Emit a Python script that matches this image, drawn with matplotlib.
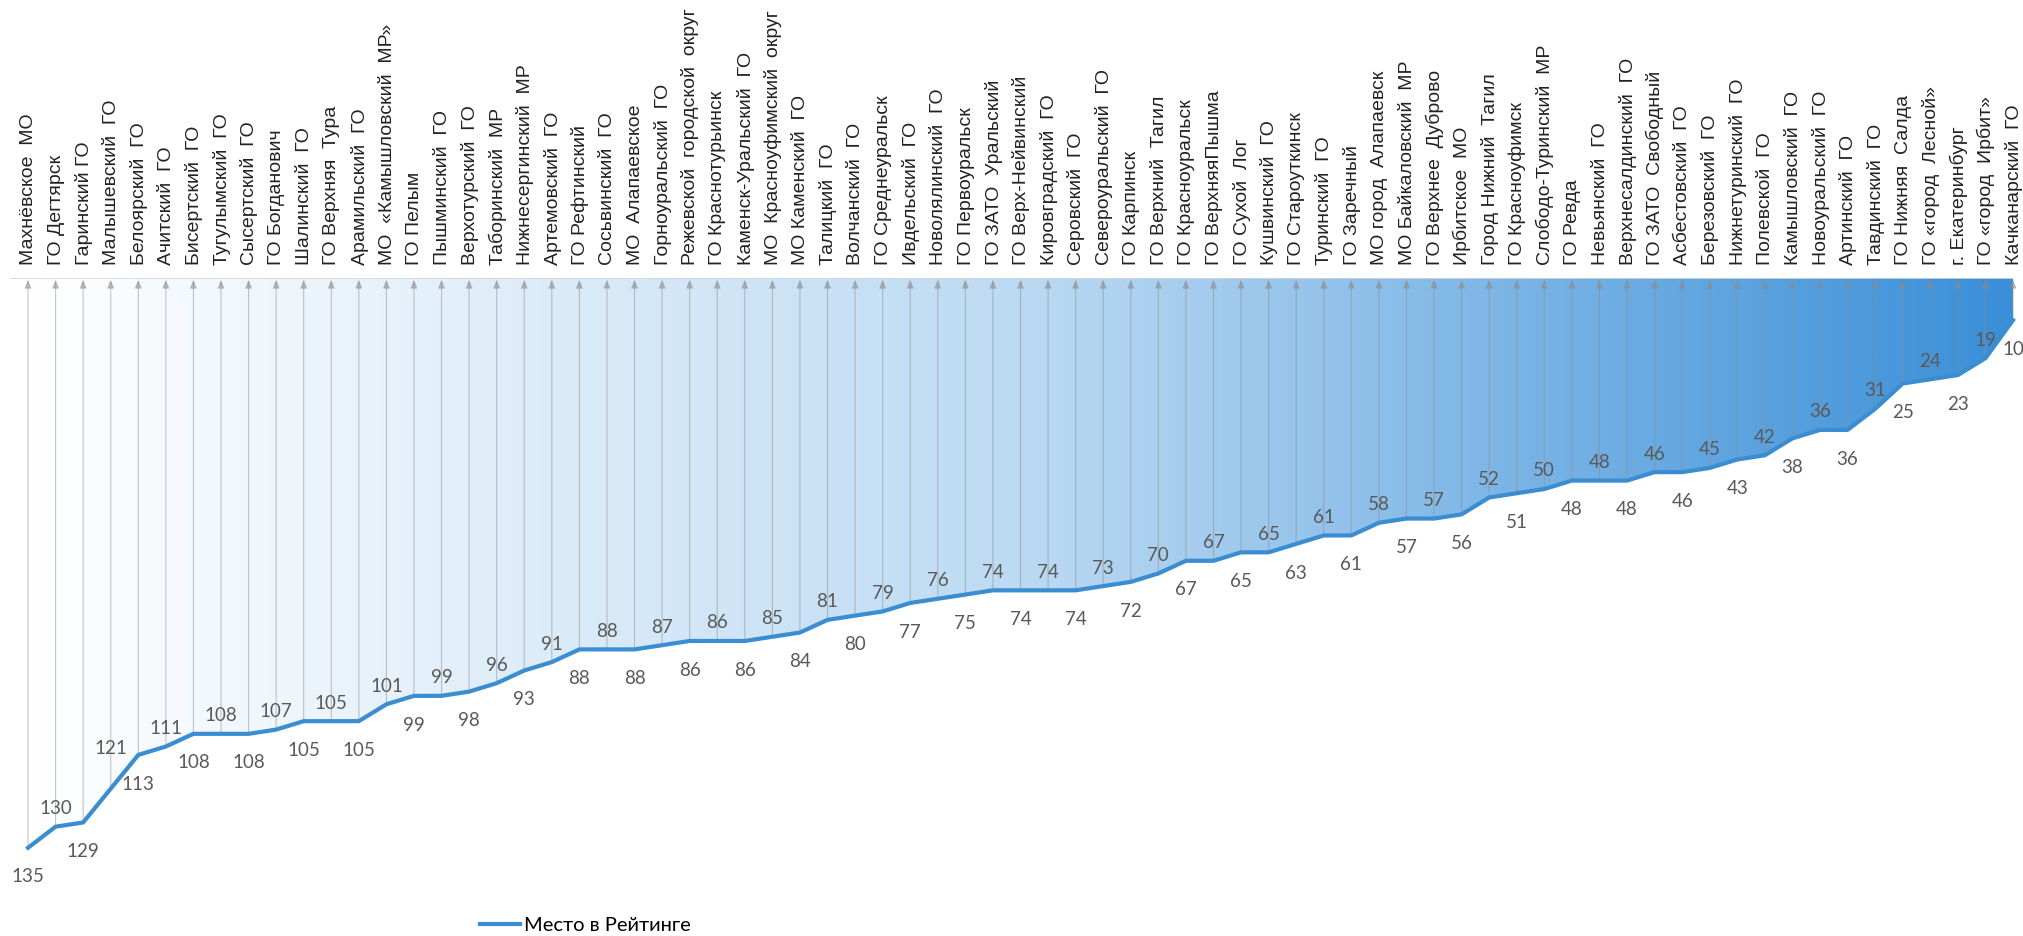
import numpy as np
import matplotlib.pyplot as plt
from matplotlib.colors import LinearSegmentedColormap
from matplotlib.lines import Line2D

names = [
    'Махнёвское  МО', 'ГО Дегтярск', 'Гаринский ГО', 'Малышевский  ГО', 'Белоярский  ГО',
    'Ачитский  ГО', 'Бисертский  ГО', 'Тугулымский  ГО', 'Сысертский  ГО', 'ГО Богданович',
    'Шалинский  ГО', 'ГО Верхняя  Тура', 'Арамильский  ГО', 'МО  «Камышловский  МР»', 'ГО Пелым',
    'Пышминский  ГО', 'Верхотурский  ГО', 'Таборинский  МР', 'Нижнесергинский  МР', 'Артемовский  ГО',
    'ГО Рефтинский', 'Сосьвинский  ГО', 'МО  Алапаевское', 'Горноуральский  ГО', 'Режевской  городской  округ',
    'ГО Краснотурьинск', 'Каменск-Уральский  ГО', 'МО  Красноуфимский  округ', 'МО Каменский  ГО', 'Талицкий  ГО',
    'Волчанский  ГО', 'ГО Среднеуральск', 'Ивдельский  ГО', 'Новолялинский  ГО', 'ГО Первоуральск',
    'ГО ЗАТО  Уральский', 'ГО Верх-Нейвинский', 'Кировградский  ГО', 'Серовский  ГО', 'Североуральский  ГО',
    'ГО Карпинск', 'ГО Верхний  Тагил', 'ГО Красноуральск', 'ГО ВерхняяПышма', 'ГО Сухой  Лог',
    'Кушвинский  ГО', 'ГО Староуткинск', 'Туринский  ГО', 'ГО Заречный', 'МО город  Алапаевск',
    'МО Байкаловский  МР', 'ГО Верхнее  Дуброво', 'Ирбитское  МО', 'Город Нижний  Тагил', 'ГО Красноуфимск',
    'Слободо-Туринский  МР', 'ГО Ревда', 'Невьянский  ГО', 'Верхнесалдинский  ГО', 'ГО ЗАТО  Свободный',
    'Асбестовский  ГО', 'Березовский  ГО', 'Нижнетуринский  ГО', 'Полевской  ГО', 'Камышловский  ГО',
    'Новоуральский  ГО', 'Артинский  ГО', 'Тавдинский  ГО', 'ГО Нижняя  Салда', 'ГО «город  Лесной»',
    'г. Екатеринбург', 'ГО «город  Ирбит»', 'Качканарский  ГО',
]
ranks = [
    135, 130, 129, 121, 113, 111, 108, 108, 108, 107,
    105, 105, 105, 101, 99, 99, 98, 96, 93, 91,
    88, 88, 88, 87, 86, 86, 86, 85, 84, 81,
    80, 79, 77, 76, 75, 74, 74, 74, 74, 73,
    72, 70, 67, 67, 65, 65, 63, 61, 61, 58,
    57, 57, 56, 52, 51, 50, 48, 48, 48, 46,
    46, 45, 43, 42, 38, 36, 36, 31, 25, 24,
    23, 19, 10,
]
series_name = 'Место в Рейтинге'

plt.rcParams['font.family'] = ['Liberation Sans', 'DejaVu Sans']

fig = plt.figure(figsize=(20.23, 9.36), dpi=100)
ax = fig.add_axes([0, 0, 1, 0.703])
x = np.arange(len(ranks))

# gradient fill between the line and the top
cmap = LinearSegmentedColormap.from_list('wb', ['#ffffff', '#bcdaf3', '#3a8fd8'])
grad = np.linspace(0, 1, 512).reshape(1, -1)
im = ax.imshow(grad, cmap=cmap, extent=[x[0], x[-1], max(ranks), 0],
               aspect='auto', zorder=1, interpolation='bilinear')
poly = ax.fill_between(x, 0, ranks, color='none', lw=0)
im.set_clip_path(poly.get_paths()[0], transform=ax.transData)

ax.plot([x[0] - 0.6, x[-1]], [0, 0], color='#d5d5d5', lw=1.2, zorder=2)

# drop lines with arrows up to the category labels
for i, v in zip(x, ranks):
    ax.annotate('', xy=(i, 0.4), xytext=(i, v),
                arrowprops=dict(arrowstyle='-|>,head_length=0.5,head_width=0.2',
                                color='#8c8c8c', lw=0.8, alpha=0.5,
                                shrinkA=0, shrinkB=0), zorder=3)

ax.plot(x, ranks, color='#3a8dd0', lw=3, zorder=4, solid_joinstyle='round')

# labels alternate above / below; the 121 label sits higher to clear the line
for i, v in zip(x, ranks):
    off = 13 if i % 2 else -21
    if i == 3:
        off = 29
    ax.annotate(str(v), xy=(i, v), xytext=(0, off), textcoords='offset points',
                ha='center', va='center', fontsize=13.5, color='#595959',
                family=['Lato', 'DejaVu Sans'], zorder=5, annotation_clip=False)

for i, name in zip(x, names):
    ax.annotate(name, xy=(i, 0), xytext=(0.5, 9.5), textcoords='offset points',
                rotation=90, ha='center', va='bottom', fontsize=14,
                color='#222222', annotation_clip=False)

ax.set_xlim(-1.016, len(ranks) - 1 + 0.363)
ax.set_ylim(155.9, 0)
ax.axis('off')

handle = Line2D([], [], color='#3a8dd0', lw=3)
fig.legend([handle], [series_name], loc='center left',
           bbox_to_anchor=(462 / 2023, 1 - 925 / 936), frameon=False,
           prop={'family': ['Lato', 'DejaVu Sans'], 'size': 14.5},
           handlelength=2.0, handletextpad=0.2)

fig.savefig('out.png', dpi=100)
